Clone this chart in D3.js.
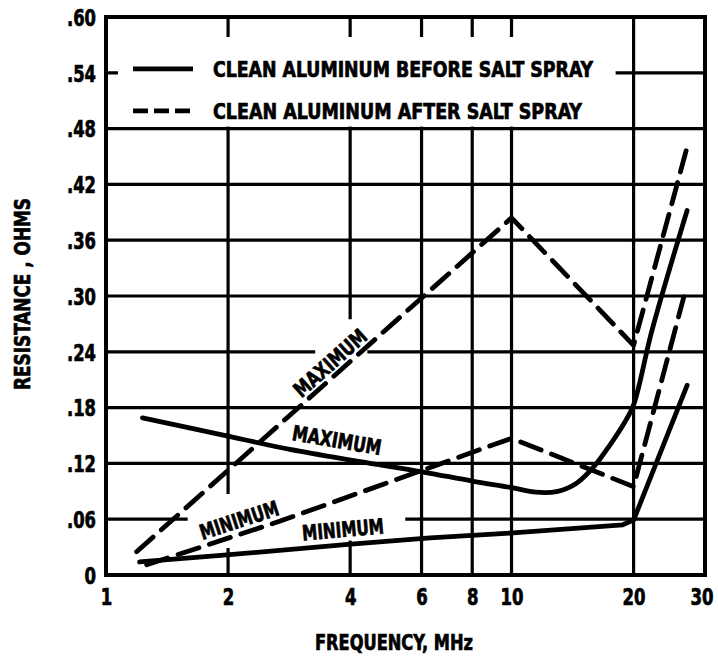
<!DOCTYPE html>
<html>
<head>
<meta charset="utf-8">
<script src="https://cdn.jsdelivr.net/npm/d3@7"></script>
<style>
  html, body { margin: 0; padding: 0; background: #fff; }
  svg { display: block; }
  text {
    font-family: 'DejaVu Sans Condensed', 'DejaVu Sans', 'Liberation Sans Narrow', sans-serif;
    font-weight: bold;
    fill: #000;
    stroke: #000;
    stroke-width: 0.7px;
  }
</style>
</head>
<body>
<svg id="chart" width="718" height="656"></svg>
<script>
// Clean aluminum, before salt spray (frequency MHz, resistance ohms)
const beforeMaxFreq = [1.23, 1.92, 2.84, 4.23, 6.02, 8.0, 10.0, 11.5, 13.0, 14.5, 16.0, 17.5, 19.0, 20, 22.2, 27.1];
const beforeMaxOhms = [0.169, 0.151, 0.135, 0.122, 0.111, 0.101, 0.094, 0.089, 0.090, 0.099, 0.117, 0.140, 0.164, 0.183, 0.263, 0.392];
const beforeMinFreq = [1.21, 1.92, 3.95, 6.3, 9.9, 18.8, 20, 27.1];
const beforeMinOhms = [0.014, 0.021, 0.033, 0.040, 0.045, 0.054, 0.059, 0.204];

// Clean aluminum, after salt spray
const afterMaxFreq = [1.19, 10, 20, 27.1];
const afterMaxOhms = [0.025, 0.384, 0.247, 0.460];
const afterMinFreq = [1.26, 2.69, 5.31, 10, 20, 26.6];
const afterMinOhms = [0.011, 0.058, 0.104, 0.147, 0.095, 0.299];

// Axis ticks
const xTicks = [1, 2, 4, 6, 8, 10, 20, 30];
const xGrid = [2, 4, 6, 8, 10, 20];
const yTicks = [0, 0.06, 0.12, 0.18, 0.24, 0.30, 0.36, 0.42, 0.48, 0.54, 0.60];
const yGrid = [0.06, 0.12, 0.18, 0.24, 0.30, 0.36, 0.42, 0.48, 0.54];

// Legend entries
const legendLabels = ["CLEAN ALUMINUM BEFORE SALT SPRAY", "CLEAN ALUMINUM AFTER SALT SPRAY"];

// Curve captions, anchored at (frequency, resistance)
const captionText = ["MAXIMUM", "MAXIMUM", "MINIMUM", "MINIMUM"];
const captionSeries = ["afterMax", "beforeMax", "afterMin", "beforeMin"];
const captionFreq = [3.57, 3.71, 2.13, 3.84];
const captionOhms = [0.228, 0.145, 0.059, 0.049];

// Grid lines are left open where the captions sit (in chart units)
const breakAxis = ["x", "x", "y", "y"];
const breakAt = [2, 4, 0.24, 0.06];
const breakFrom = [0.029, 0.037, 3.28, 1.59];
const breakTo = [0.087, 0.275, 4.41, 5.47];

const svg = d3.select("#chart");
const x = d3.scaleLog().domain([1, 30]).range([106, 705]);
const y = d3.scaleLinear().domain([0, 0.60]).range([575, 17]);

const series = {
  beforeMax: { f: beforeMaxFreq, r: beforeMaxOhms, dash: null, curve: d3.curveCatmullRom.alpha(0.5) },
  beforeMin: { f: beforeMinFreq, r: beforeMinOhms, dash: null, curve: d3.curveLinear },
  afterMax:  { f: afterMaxFreq,  r: afterMaxOhms,  dash: "22,11", curve: d3.curveLinear },
  afterMin:  { f: afterMinFreq,  r: afterMinOhms,  dash: "22,11", curve: d3.curveLinear }
};

// Width of hand-lettered numerals: digits are wider than the point
const numeralWidth = s => s.split("").reduce((w, c) => w + (c === "." ? 6 : 11.5), 0);

// ---- grid ----
const grid = svg.append("g").attr("stroke", "#000").attr("stroke-width", 3.2);
function segments(axis, at, lo, hi) {
  let segs = [[lo, hi]];
  breakAxis.forEach((a, i) => {
    if (a !== axis || breakAt[i] !== at) return;
    const next = [];
    segs.forEach(([s, e]) => {
      if (breakTo[i] <= s || breakFrom[i] >= e) { next.push([s, e]); return; }
      if (breakFrom[i] > s) next.push([s, breakFrom[i]]);
      if (breakTo[i] < e) next.push([breakTo[i], e]);
    });
    segs = next;
  });
  return segs;
}
xGrid.forEach(v => {
  segments("x", v, 0, 0.60).forEach(([a, b]) => {
    grid.append("line").attr("x1", x(v)).attr("x2", x(v)).attr("y1", y(a)).attr("y2", y(b));
  });
});
yGrid.forEach(v => {
  segments("y", v, 1, 30).forEach(([a, b]) => {
    grid.append("line").attr("y1", y(v)).attr("y2", y(v)).attr("x1", x(a)).attr("x2", x(b));
  });
});

// ---- legend panel (clears the grid beneath it) ----
svg.append("rect")
  .attr("x", x(1) + 12).attr("y", y(0.60) + 20)
  .attr("width", (x(20) - 18) - (x(1) + 12))
  .attr("height", (y(0.48) - 2) - (y(0.60) + 20))
  .attr("fill", "#fff");

// ---- frame ----
svg.append("rect")
  .attr("x", x(1)).attr("y", y(0.60))
  .attr("width", x(30) - x(1)).attr("height", y(0) - y(0.60))
  .attr("fill", "none").attr("stroke", "#000").attr("stroke-width", 4);

// ---- axes ----
const fmtY = v => v === 0 ? "0" : d3.format(".2f")(v).replace(/^0/, "");
const xAxis = svg.append("g").attr("transform", `translate(0,${y(0)})`)
  .call(d3.axisBottom(x).tickValues(xTicks).tickFormat(d3.format("d")).tickSize(0).tickPadding(14));
const yAxis = svg.append("g").attr("transform", `translate(${x(1)},0)`)
  .call(d3.axisLeft(y).tickValues(yTicks).tickFormat(fmtY).tickSize(0).tickPadding(10));
[xAxis, yAxis].forEach(g => {
  g.select(".domain").remove();
  g.selectAll("text")
    .attr("font-family", null).attr("font-size", null)
    .style("font-size", "23px")
    .attr("textLength", function () { return numeralWidth(this.textContent); })
    .attr("lengthAdjust", "spacingAndGlyphs");
});
yAxis.selectAll("text").attr("dy", "0.36em");
// keep the last frequency label inside the page
xAxis.selectAll(".tick").filter(d => d === 30).select("text")
  .attr("text-anchor", "end").attr("x", 8);

// ---- curves ----
Object.values(series).forEach(s => {
  const pts = s.f.map((f, i) => [x(f), y(s.r[i])]);
  svg.append("path")
    .attr("d", d3.line().curve(s.curve)(pts))
    .attr("fill", "none").attr("stroke", "#000").attr("stroke-width", 4.8)
    .attr("stroke-linecap", "round").attr("stroke-linejoin", "round")
    .attr("stroke-dasharray", s.dash);
});

// ---- captions along curves ----
function slopeAngle(s, f) {
  let i = d3.bisectRight(s.f, f) - 1;
  i = Math.max(0, Math.min(s.f.length - 2, i));
  const dx = x(s.f[i + 1]) - x(s.f[i]);
  const dy = y(s.r[i + 1]) - y(s.r[i]);
  return Math.atan2(dy, dx) * 180 / Math.PI;
}
captionText.forEach((t, i) => {
  const s = series[captionSeries[i]];
  const cx = x(captionFreq[i]), cy = y(captionOhms[i]);
  const ang = slopeAngle(s, captionFreq[i]);
  svg.append("text")
    .attr("transform", `translate(${cx},${cy}) rotate(${ang})`)
    .attr("text-anchor", "middle").attr("dy", "0.36em")
    .attr("font-size", 21)
    .attr("textLength", t === "MAXIMUM" ? 90 : 82).attr("lengthAdjust", "spacingAndGlyphs")
    .text(t);
});

// ---- legend content ----
const lx0 = x(1) + 27, lx1 = x(1) + 87, tx = x(1) + 107;
const rowY = [y(0.54) - 4, y(0.54) + 38];
const textLen = [380, 369];
legendLabels.forEach((t, i) => {
  svg.append("line")
    .attr("x1", lx0).attr("x2", lx1).attr("y1", rowY[i]).attr("y2", rowY[i])
    .attr("stroke", "#000").attr("stroke-width", 4.8)
    .attr("stroke-dasharray", i === 0 ? null : "15,6");
  svg.append("text")
    .attr("x", tx).attr("y", rowY[i]).attr("dy", "0.36em")
    .attr("font-size", 22)
    .attr("textLength", textLen[i]).attr("lengthAdjust", "spacingAndGlyphs")
    .text(t);
});

// ---- axis titles ----
svg.append("text")
  .attr("x", 394).attr("y", 650)
  .attr("text-anchor", "middle").attr("font-size", 22)
  .attr("textLength", 158).attr("lengthAdjust", "spacingAndGlyphs")
  .text("FREQUENCY, MHz");
svg.append("text")
  .attr("transform", "translate(30,294) rotate(-90)")
  .attr("text-anchor", "middle").attr("font-size", 22)
  .attr("textLength", 192).attr("lengthAdjust", "spacingAndGlyphs")
  .text("RESISTANCE , OHMS");
</script>
</body>
</html>
